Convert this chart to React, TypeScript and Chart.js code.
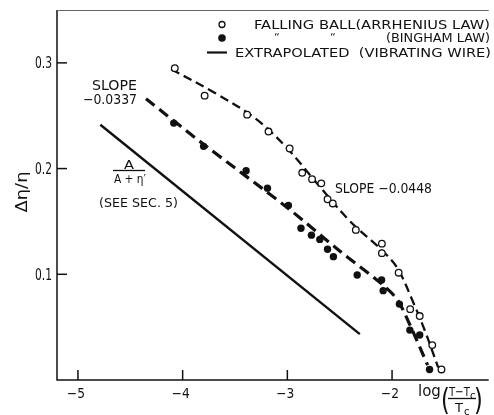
import React, { useEffect, useRef } from "react";
import { Chart, registerables } from "chart.js";

Chart.register(...registerables);

// ---- data ----
const arrheniusX = [-4.075, -3.79, -3.384, -3.18, -2.978, -2.858, -2.764, -2.676, -2.616, -2.566, -2.346, -2.097, -2.097, -1.937, -1.827, -1.736, -1.616, -1.528];
const arrheniusY = [0.295, 0.269, 0.251, 0.235, 0.219, 0.196, 0.19, 0.186, 0.171, 0.167, 0.142, 0.129, 0.12, 0.1015, 0.067, 0.0605, 0.033, 0.01];

const binghamX = [-4.085, -3.8, -3.394, -3.19, -2.99, -2.87, -2.77, -2.69, -2.616, -2.56, -2.333, -2.1, -2.085, -1.93, -1.83, -1.736, -1.642];
const binghamY = [0.243, 0.221, 0.198, 0.1815, 0.165, 0.1436, 0.137, 0.133, 0.1237, 0.1167, 0.0993, 0.0946, 0.0845, 0.0718, 0.0472, 0.0425, 0.01];

const arrheniusFitX = [-4.11, -3.7, -3.3, -3.0, -2.7, -2.4, -2.1, -1.95, -1.8, -1.68, -1.56];
const arrheniusFitY = [0.294, 0.272, 0.247, 0.219, 0.184, 0.15, 0.123, 0.106, 0.074, 0.045, 0.012];

const binghamFitX = [-4.35, -3.8, -3.0, -2.5, -2.1, -1.95, -1.82, -1.66];
const binghamFitY = [0.266, 0.223, 0.163, 0.122, 0.091, 0.076, 0.05, 0.014];

const wireX = [-4.786, -2.308];
const wireY = [0.2415, 0.0434];

const xTickValues = [-5, -4, -3, -2];
const xTickLabels = ["\u22125", "\u22124", "\u22123", "\u22122"];
const yTickValues = [0.1, 0.2, 0.3];
const yTickLabels = ["0.1", "0.2", "0.3"];

const legendLabels = ["FALLING BALL(ARRHENIUS LAW)", "(BINGHAM LAW)", "EXTRAPOLATED  (VIBRATING WIRE)"];
const slopeLeftLabel = ["SLOPE", "\u22120.0337"];
const slopeRightLabel = "SLOPE \u22120.0448";
const fractionLabel = ["A", "A + \u03B7\u2032"];
const seeLabel = "(SEE SEC. 5)";
const yTitle = "\u0394\u03B7/\u03B7";

const pts = (xs: number[], ys: number[]) => xs.map((x, i) => ({ x, y: ys[i] }));

const FAMILY = '"DejaVu Sans", "Liberation Sans", sans-serif';

function fitText(ctx: CanvasRenderingContext2D, text: string, left: number, right: number, baseline: number, size: number) {
  ctx.font = `${size}px ${FAMILY}`;
  const w = ctx.measureText(text).width;
  ctx.save();
  ctx.translate(left, baseline);
  ctx.scale((right - left) / w, 1);
  ctx.textAlign = "left";
  ctx.textBaseline = "alphabetic";
  ctx.fillText(text, 0, 0);
  ctx.restore();
}

const decorPlugin = {
  id: "decor",
  afterDraw(chart: any) {
    const ctx: CanvasRenderingContext2D = chart.ctx;
    const { left, right, top, bottom } = chart.chartArea;
    const xs = chart.scales.x;
    const ys = chart.scales.y;
    ctx.save();
    ctx.fillStyle = "#111";
    ctx.strokeStyle = "#111";

    // frame
    ctx.lineWidth = 1.5;
    ctx.beginPath();
    ctx.moveTo(left, top);
    ctx.lineTo(left, bottom);
    ctx.lineTo(right, bottom);
    ctx.stroke();
    ctx.lineWidth = 1;
    ctx.strokeStyle = "#666";
    ctx.beginPath();
    ctx.moveTo(left, top + 0.5);
    ctx.lineTo(right, top + 0.5);
    ctx.stroke();
    ctx.strokeStyle = "#111";

    // ticks (inward)
    ctx.lineWidth = 1.5;
    yTickValues.forEach((v, i) => {
      const py = ys.getPixelForValue(v);
      ctx.beginPath();
      ctx.moveTo(left, py);
      ctx.lineTo(left + 10, py);
      ctx.stroke();
      fitText(ctx, yTickLabels[i], left - 22, left - 5, py + 5.5, 15);
    });
    xTickValues.forEach((v, i) => {
      const px = xs.getPixelForValue(v);
      ctx.beginPath();
      ctx.moveTo(px, bottom);
      ctx.lineTo(px, bottom - 10);
      ctx.stroke();
      fitText(ctx, xTickLabels[i], px - 11, px + 7, bottom + 18, 14);
    });

    // y title
    ctx.save();
    ctx.translate(27, 192);
    ctx.rotate(-Math.PI / 2);
    ctx.font = `15px ${FAMILY}`;
    const tw = ctx.measureText(yTitle).width;
    ctx.scale(41 / tw, 1);
    ctx.textAlign = "center";
    ctx.fillText(yTitle, 0, 0);
    ctx.restore();

    // x title: log((T - Tc)/Tc)
    ctx.font = `15px ${FAMILY}`;
    ctx.textAlign = "left";
    ctx.fillText("log", 418, 396);
    ctx.save();
    ctx.translate(441, 410);
    ctx.scale(0.75, 1);
    ctx.font = `30px ${FAMILY}`;
    ctx.fillText("(", 0, 0);
    ctx.restore();
    ctx.save();
    ctx.translate(474, 410);
    ctx.scale(0.75, 1);
    ctx.font = `30px ${FAMILY}`;
    ctx.fillText(")", 0, 0);
    ctx.restore();
    fitText(ctx, "T\u2212T", 449, 470, 395.5, 13);
    ctx.font = `10px ${FAMILY}`;
    ctx.fillText("c", 470, 399);
    ctx.lineWidth = 1.3;
    ctx.beginPath();
    ctx.moveTo(448, 398.5);
    ctx.lineTo(476, 398.5);
    ctx.stroke();
    ctx.font = `13px ${FAMILY}`;
    ctx.fillText("T", 455, 412);
    ctx.font = `10px ${FAMILY}`;
    ctx.fillText("c", 464, 415);

    // annotations
    fitText(ctx, slopeLeftLabel[0], 92, 137, 90, 13.5);
    fitText(ctx, slopeLeftLabel[1], 83, 137, 104, 13.5);
    fitText(ctx, fractionLabel[0], 124, 134, 168.5, 13);
    ctx.lineWidth = 1.3;
    ctx.beginPath();
    ctx.moveTo(113, 170.5);
    ctx.lineTo(145, 170.5);
    ctx.stroke();
    fitText(ctx, fractionLabel[1], 114, 146, 183, 12.5);
    fitText(ctx, seeLabel, 99, 178, 207, 13);
    fitText(ctx, slopeRightLabel, 335, 432, 193, 13.5);

    // legend
    ctx.lineWidth = 1.3;
    ctx.beginPath();
    ctx.arc(222, 24.5, 3, 0, Math.PI * 2);
    ctx.stroke();
    fitText(ctx, legendLabels[0], 254, 490, 28.5, 12);
    ctx.beginPath();
    ctx.arc(222, 38, 3.8, 0, Math.PI * 2);
    ctx.fill();
    ctx.font = `11px ${FAMILY}`;
    ctx.fillText("\u201C", 274, 41);
    ctx.fillText("\u201C", 330, 41);
    fitText(ctx, legendLabels[1], 386, 490, 42, 12);
    ctx.lineWidth = 2.2;
    ctx.beginPath();
    ctx.moveTo(207, 52.5);
    ctx.lineTo(227, 52.5);
    ctx.stroke();
    fitText(ctx, legendLabels[2], 235, 491, 56.5, 12);

    ctx.restore();
  },
};

export default function App() {
  const ref = useRef<HTMLCanvasElement | null>(null);
  useEffect(() => {
    if (!ref.current) return;
    const chart = new Chart(ref.current, {
      type: "scatter",
      data: {
        datasets: [
          {
            label: "Arrhenius",
            data: pts(arrheniusX, arrheniusY),
            pointRadius: 3.3,
            pointBackgroundColor: "#fff",
            pointBorderColor: "#111",
            pointBorderWidth: 1.3,
            showLine: false,
            order: 0,
          },
          {
            label: "Bingham",
            data: pts(binghamX, binghamY),
            pointRadius: 3.7,
            pointBackgroundColor: "#111",
            pointBorderColor: "#111",
            pointBorderWidth: 0,
            showLine: false,
            order: 0,
          },
          {
            label: "Arrhenius fit",
            data: pts(arrheniusFitX, arrheniusFitY),
            showLine: true,
            borderColor: "#111",
            borderWidth: 2.3,
            borderDash: [9, 5],
            pointRadius: 0,
            tension: 0.35,
            order: 1,
          },
          {
            label: "Bingham fit",
            data: pts(binghamFitX, binghamFitY),
            showLine: true,
            borderColor: "#111",
            borderWidth: 3.2,
            borderDash: [11, 6],
            pointRadius: 0,
            tension: 0.3,
            order: 1,
          },
          {
            label: "Vibrating wire",
            data: pts(wireX, wireY),
            showLine: true,
            borderColor: "#111",
            borderWidth: 2.4,
            pointRadius: 0,
            order: 1,
          },
        ],
      },
      options: {
        responsive: false,
        animation: false,
        layout: { padding: { left: 57, top: 10, right: 0, bottom: 35 } },
        plugins: { legend: { display: false }, tooltip: { enabled: false } },
        scales: {
          x: { type: "linear", min: -5.2, max: -1.077, display: false },
          y: { type: "linear", min: 0, max: 0.35, display: false },
        },
      },
      plugins: [decorPlugin],
    });
    return () => chart.destroy();
  }, []);
  return (
    <div style={{ position: "absolute", left: 0, top: 0, width: 494, height: 415, background: "#fff" }}>
      <canvas ref={ref} width={494} height={415} style={{ display: "block" }} />
    </div>
  );
}
